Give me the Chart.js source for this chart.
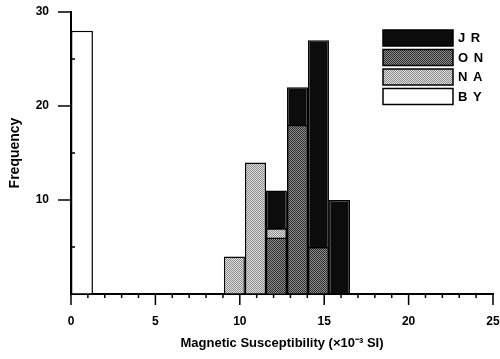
<!DOCTYPE html>
<html lang="en">
<head>
    <meta charset="UTF-8">
    <title>Magnetic Susceptibility Histogram</title>
    <script src="https://cdn.jsdelivr.net/npm/chart.js"></script>
    <style>
        html, body { margin: 0; padding: 0; background: #fff; }
        #wrap { width: 500px; height: 359px; }
    </style>
</head>
<body>
    <div id="wrap"><canvas id="histChart"></canvas></div>
    <script>
        // bin centres (x10^-3 SI) and counts
        var binCenters = [9.68, 10.93, 12.17, 13.42, 14.66, 15.91];
        var binWidth = 1.245;
        var jrCounts = [null, null, 11, 22, 27, 10];
        var onCounts = [null, null, 6, 18, 5, null];
        var naCounts = [4, 14, 7, null, null, null];
        var byCenter = [0.65];
        var byCounts = [28];
        var byWidth = 1.3;
        var legendOrder = ['J R', 'O N', 'N A', 'B Y'];

        // small dithered fills to mimic the printed textures
        function makePattern(dark, light) {
            var c = document.createElement('canvas');
            c.width = 2; c.height = 2;
            var g = c.getContext('2d');
            g.fillStyle = light; g.fillRect(0, 0, 2, 2);
            g.fillStyle = dark; g.fillRect(0, 0, 1, 1); g.fillRect(1, 1, 1, 1);
            return g.createPattern(c, 'repeat');
        }
        var onFill = makePattern('#2e2e2e', '#8c8c8c');
        var naFill = makePattern('#8e8e8e', '#dedede');

        function pairs(xs, ys) {
            return xs.map(function (x, i) { return { x: x, y: ys[i] }; });
        }

        var font = 'Liberation Sans, Arial, sans-serif';

        // tick marks: long outward at labelled values, short elsewhere
        var tickPlugin = {
            id: 'ticks',
            afterDraw: function (chart) {
                var ctx = chart.ctx, x = chart.scales.x, y = chart.scales.y;
                var area = chart.chartArea;
                ctx.save();
                ctx.strokeStyle = '#000';
                ctx.lineWidth = 1.5;
                ctx.beginPath();
                for (var v = 0; v <= 25; v++) {
                    var px = x.getPixelForValue(v);
                    ctx.moveTo(px, area.bottom);
                    ctx.lineTo(px, area.bottom + (v % 5 === 0 ? 11 : 4));
                }
                for (var w = 5; w <= 30; w += 5) {
                    var py = y.getPixelForValue(w);
                    if (w % 10 === 0) {
                        ctx.moveTo(area.left - 13, py);
                        ctx.lineTo(area.left, py);
                    } else {
                        ctx.moveTo(area.left, py);
                        ctx.lineTo(area.left + 4, py);
                    }
                }
                ctx.stroke();

                // legend, drawn in the top right of the plot
                var ds = chart.data.datasets;
                var bx = area.right - 110, by = area.top + 18;
                ctx.font = 'bold 13px ' + font;
                ctx.letterSpacing = '1px';
                ctx.textBaseline = 'middle';
                legendOrder.forEach(function (name, i) {
                    var d = ds.filter(function (s) { return s.label === name; })[0];
                    var top = by + i * 19.5;
                    ctx.fillStyle = d.backgroundColor;
                    ctx.fillRect(bx, top, 70, 16);
                    ctx.lineWidth = 1.5;
                    ctx.strokeRect(bx, top, 70, 16);
                    ctx.fillStyle = '#000';
                    ctx.fillText(name, bx + 75, top + 8.5);
                });
                ctx.restore();
            }
        };

        var ctx = document.getElementById('histChart').getContext('2d');
        var histChart = new Chart(ctx, {
            type: 'bar',
            data: {
                datasets: [{
                    label: 'B Y',
                    data: pairs(byCenter, byCounts),
                    backgroundColor: '#ffffff',
                    barPercentage: byWidth,
                    order: 0
                }, {
                    label: 'O N',
                    data: pairs(binCenters, onCounts),
                    backgroundColor: onFill,
                    barPercentage: binWidth,
                    order: 1
                }, {
                    label: 'N A',
                    data: pairs(binCenters, naCounts),
                    backgroundColor: naFill,
                    barPercentage: binWidth,
                    order: 2
                }, {
                    label: 'J R',
                    data: pairs(binCenters, jrCounts),
                    backgroundColor: '#0c0c0c',
                    barPercentage: binWidth,
                    order: 3
                }]
            },
            options: {
                responsive: true,
                maintainAspectRatio: false,
                animation: false,
                grouped: false,
                categoryPercentage: 1,
                borderColor: '#000',
                borderWidth: 1.5,
                layout: { padding: { top: 12, right: 7, left: 0, bottom: 0 } },
                plugins: {
                    legend: { display: false },
                    tooltip: { enabled: false }
                },
                scales: {
                    x: {
                        type: 'linear',
                        min: 0,
                        max: 25,
                        offset: false,
                        afterFit: function (s) {
                            s.height = 65;
                            s.paddingLeft = 0;
                            s.paddingRight = 0;
                        },
                        grid: { drawOnChartArea: false, drawTicks: false },
                        border: { display: true, color: '#000', width: 2 },
                        ticks: {
                            stepSize: 1,
                            autoSkip: false,
                            maxRotation: 0,
                            padding: 20,
                            color: '#000',
                            font: { family: font, size: 12, weight: 'bold' },
                            callback: function (v) { return v % 5 === 0 ? v : ''; }
                        },
                        title: {
                            display: true,
                            text: 'Magnetic Susceptibility (\u00d710\u207b\u00b3 SI)',
                            color: '#000',
                            padding: { top: 0, bottom: 8 },
                            font: { family: font, size: 13, weight: 'bold' }
                        }
                    },
                    y: {
                        min: 0,
                        max: 30,
                        afterFit: function (s) {
                            s.width = 71;
                            s.paddingTop = 0;
                            s.paddingBottom = 0;
                        },
                        grid: { drawOnChartArea: false, drawTicks: false },
                        border: { display: true, color: '#000', width: 2 },
                        ticks: {
                            stepSize: 5,
                            padding: 22,
                            color: '#000',
                            font: { family: font, size: 12, weight: 'bold' },
                            callback: function (v) { return (v % 10 === 0 && v > 0) ? v : ''; }
                        },
                        title: {
                            display: true,
                            text: 'Frequency',
                            color: '#000',
                            padding: { top: 7, bottom: 0 },
                            font: { family: font, size: 14, weight: 'bold' }
                        }
                    }
                }
            },
            plugins: [tickPlugin]
        });
    </script>
</body>
</html>
